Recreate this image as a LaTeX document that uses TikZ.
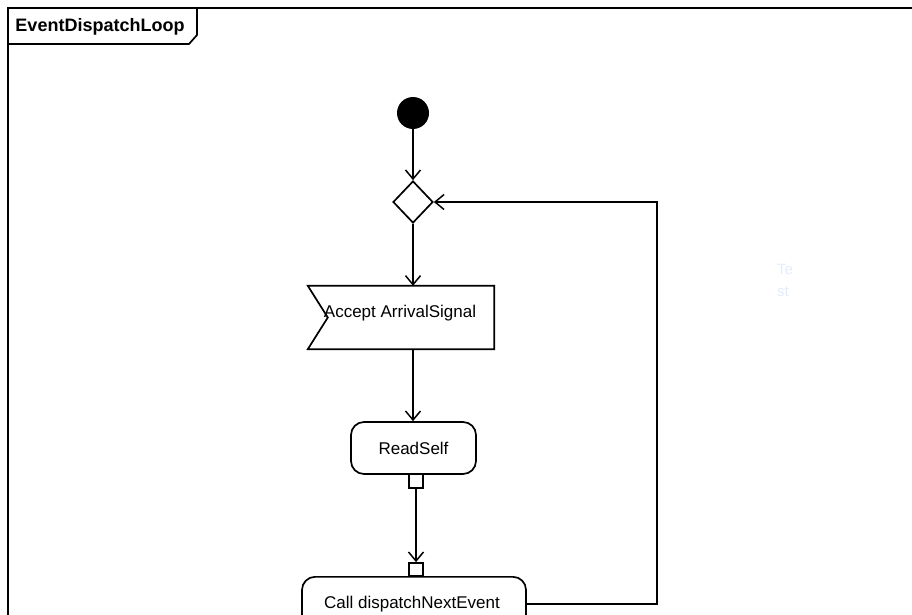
\documentclass[tikz,border=0pt]{standalone}
\usepackage{fontspec}
\setmainfont{Liberation Sans}
\usetikzlibrary{arrows.meta,calc,shapes.geometric}
\definecolor{faint}{RGB}{226,236,252}
\tikzset{
  ln/.style={line width=1.7pt, black},
  flow/.style={ln, -{Straight Barb[length=9pt,width=15pt,line width=1.5pt]}},
  lbl/.style={font=\fontsize{17}{20}\selectfont, inner sep=0pt},
  action/.style={ln, draw, rounded corners=13pt, fill=white, lbl},
  pin/.style={ln, draw, fill=white, minimum width=14pt, minimum height=14pt, inner sep=0pt},
}
\begin{document}
\begin{tikzpicture}[x=1pt,y=-1pt]
\useasboundingbox (0,0) rectangle (912,615);
\clip (0,0) rectangle (912,615);
% frame
\draw[ln] (8,8) rectangle (960,660);
\node[font=\bfseries\fontsize{18}{20}\selectfont, inner sep=0pt] (title) at (100,27) {EventDispatchLoop};
\draw[ln] (8,44) -- (189,44) -- (197,35) -- (197,8);
% initial
\node[circle, fill=black, minimum size=32pt, inner sep=0pt] (init) at (413,113) {};
% merge
\node[ln, draw, diamond, minimum width=40pt, minimum height=42pt, inner sep=0pt, fill=white] (merge) at (413,202) {};
% accept event
\node[minimum width=186pt, minimum height=63pt, inner sep=0pt] (accept) at (401,317.5) {};
\draw[ln, fill=white] (accept.north west) -- (accept.north east) -- (accept.south east) -- (accept.south west) -- ($(accept.west)+(20,0)$) -- cycle;
\node[lbl] (acceptlbl) at (400,313) {Accept ArrivalSignal};
% ReadSelf
\node[action, minimum width=125pt, minimum height=52pt] (read) at (413.5,448) {ReadSelf};
\node[pin] (pout) at (416,481) {};
% call
\node[action, minimum width=224pt, minimum height=56pt, anchor=north] (call) at (414,576) {};
\node[lbl] (calllbl) at (412,604) {Call dispatchNextEvent};
\node[pin, minimum height=13pt] (pin) at (416,569.5) {};
% faint text
\node[text=faint, font=\fontsize{15}{22}\selectfont, align=left, anchor=north west, inner sep=0pt] (test) at (777,264) {Te\\st};
% flows
\draw[flow] (init) -- (merge.north);
\draw[flow] (merge.south) -- (accept.north -| merge.south);
\draw[flow] (accept.south -| merge.south) -- (read.north -| merge.south);
\draw[flow] (pout.south) -- (pin.north);
\coordinate (c1) at (657,604);
\coordinate (c2) at (657,202);
\draw[flow] (call.east |- c1) -- (c1) -- (c2) -- (merge.east);
\end{tikzpicture}
\end{document}
